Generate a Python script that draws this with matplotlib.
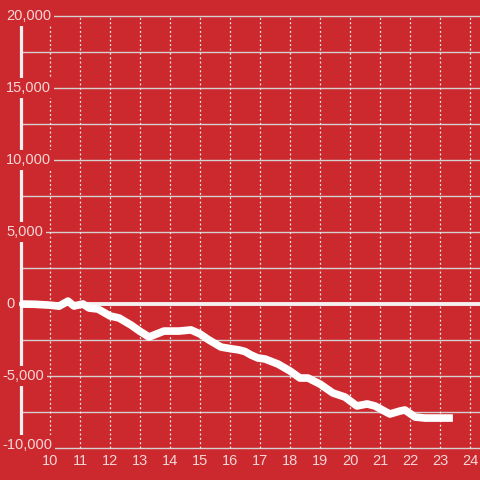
import numpy as np
import matplotlib.pyplot as plt

# hours of day and running total
hours = [9.0, 9.5, 10.0, 10.3, 10.6, 10.8, 11.1, 11.3, 11.6, 12.0, 12.3, 12.7,
         13.0, 13.3, 13.8, 14.3, 14.7, 15.0, 15.3, 15.7, 16.1, 16.3, 16.5, 16.7,
         16.93, 17.17, 17.6, 18.0, 18.33, 18.6, 19.0, 19.43, 19.83, 20.23, 20.57,
         20.83, 21.33, 21.67, 21.83, 22.17, 22.5, 23.43]
values = [0, -20, -80, -150, 200, -140, 0, -280, -350, -830, -970, -1460,
          -1900, -2290, -1880, -1880, -1800, -2080, -2500, -2990, -3130, -3190, -3300, -3540,
          -3750, -3820, -4170, -4650, -5140, -5140, -5560, -6180, -6460, -7080, -6940,
          -7080, -7640, -7430, -7360, -7850, -7920, -7920]

y_ticks = [20000, 15000, 10000, 5000, 0, -5000, -10000]
y_minor = [17500, 12500, 7500, 2500, -2500, -7500]
x_ticks = list(range(10, 25))

bg = '#cc292e'
txt = '#f5d6d7'
grid = '#d6d0d0'

fig = plt.figure(figsize=(4.8, 4.8), dpi=100, facecolor=bg)
ax = fig.add_axes([0, 0, 1, 1], facecolor=bg)
ax.set_xlim(8.3333, 24.3333)
ax.set_ylim(-12222, 21111)
ax.set_axis_off()

x_axis = 9.03
x_right = 24.3333

# horizontal grid
for v in y_ticks + y_minor:
    ax.plot([x_axis, x_right], [v, v], color=grid, lw=1.0, zorder=1)

# dotted vertical grid
for h in x_ticks:
    ax.plot([h, h], [-10000, 20000], color='#eeeeee', lw=0.9,
            linestyle=(0, (1.5, 2)), zorder=1)
    ax.text(h, -10900, str(h), color=txt, fontsize=10.5, family='Liberation Sans',
            ha='center', va='center', zorder=5)

# y axis line and zero line
ax.plot([x_axis, x_axis], [-10000, 20000], color='#f0f0f0', lw=2.3, zorder=2)
ax.plot([x_axis, x_right], [0, 0], color='#f4f0f0', lw=2.8, zorder=2)

# data
ax.plot(hours, values, color='white', lw=5.5, solid_joinstyle='round',
        solid_capstyle='butt', zorder=3)

# y labels with background boxes
for v in y_ticks:
    label = f'{v:,}'
    xl = 8.3333 + (2 if v < 0 else 6) / 30
    yv = v + 200 if v == -10000 else v
    ax.text(xl, yv, label, color=txt, fontsize=10.5, family='Liberation Sans',
            ha='left', va='center', zorder=6,
            bbox=dict(boxstyle='square,pad=0.2', facecolor=bg, edgecolor='none'))

fig.savefig('out.png', dpi=100, facecolor=bg)
